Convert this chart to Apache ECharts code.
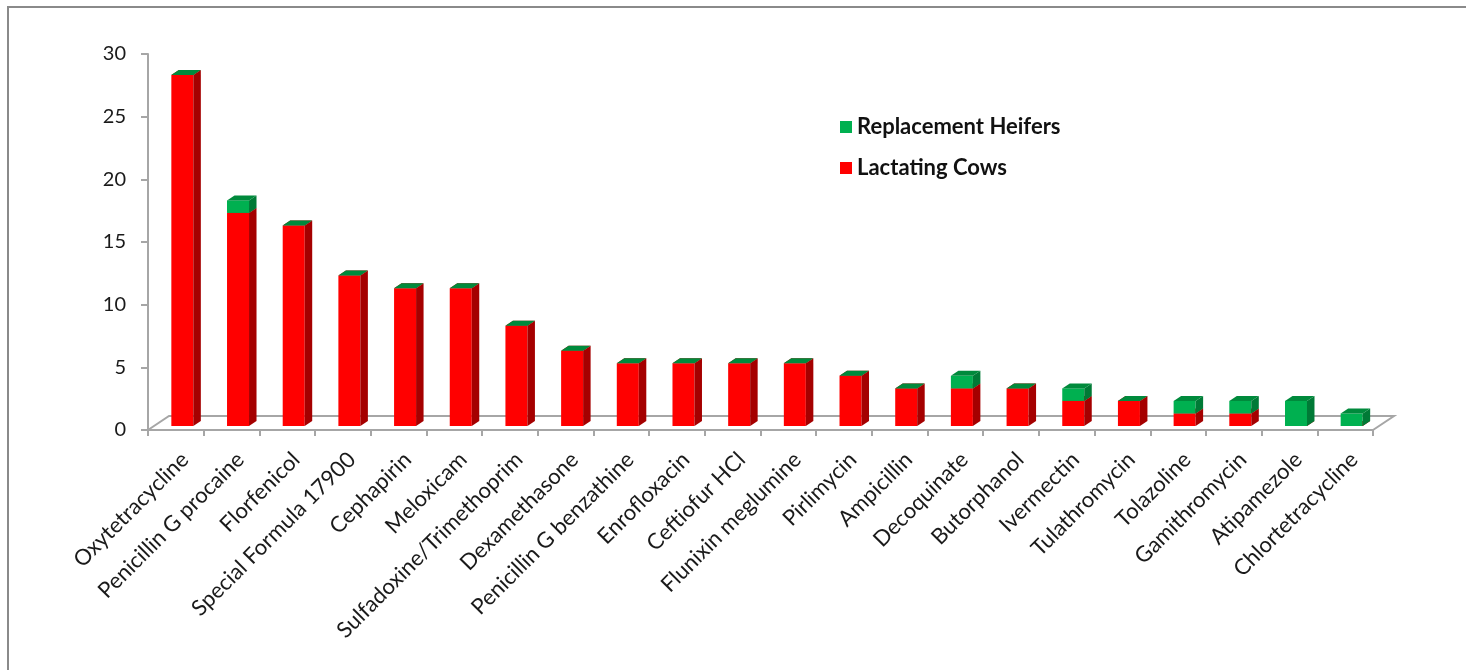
<!DOCTYPE html>
<html>
<head>
<meta charset="utf-8">
<script src="https://cdn.jsdelivr.net/npm/echarts@6/dist/echarts.min.js"></script>
<style>
html,body{margin:0;padding:0;background:#fff;}
#chart{width:1466px;height:670px;}
</style>
</head>
<body>
<div id="chart"></div>
<script>
var categories = ["Oxytetracycline","Penicillin G procaine","Florfenicol","Special Formula 17900","Cephapirin","Meloxicam","Sulfadoxine/Trimethoprim","Dexamethasone","Penicillin G benzathine","Enrofloxacin","Ceftiofur HCl","Flunixin meglumine","Pirlimycin","Ampicillin","Decoquinate","Butorphanol","Ivermectin","Tulathromycin","Tolazoline","Gamithromycin","Atipamezole","Chlortetracycline"];
var lactatingCows = [28,17,16,12,11,11,8,6,5,5,5,5,4,3,3,3,2,2,1,1,0,0];
var replacementHeifers = [0,1,0,0,0,0,0,0,0,0,0,0,0,0,1,0,1,0,1,1,2,1];
var yTicks = [0,5,10,15,20,25,30];

var FONT = 'Lato';
var chart = echarts.init(document.getElementById('chart'));

function makeBarRenderer(baseArr, valArr, colors) {
  return function (params, api) {
    var idx = api.value(0);
    var base = baseArr[idx];
    var top = base + valArr[idx];
    var p0 = api.coord([idx, base]);
    var p1 = api.coord([idx, top]);
    var c = p0[0] + 6.5;
    var yb = p0[1] - 4;
    var yt = p1[1] - 4;
    var hw = 11, dx = 7.5, dy = 5;
    var children = [];
    if (yb - yt > 0.01) {
      children.push({type:'rect', shape:{x:c-hw, y:yt, width:2*hw, height:yb-yt}, style:{fill:colors.front}});
      children.push({type:'polygon', shape:{points:[[c+hw,yb],[c+hw+dx,yb-dy],[c+hw+dx,yt-dy],[c+hw,yt]]}, style:{fill:colors.side}});
    }
    children.push({type:'polygon', shape:{points:[[c-hw,yt],[c+hw,yt],[c+hw+dx,yt-dy],[c-hw+dx,yt-dy]]}, style:{fill:colors.top}});
    return {type:'group', children: children};
  };
}

var zeros = lactatingCows.map(function(){return 0;});
var idxData = categories.map(function(c,i){return [i, 0];});

var option = {
  animation: false,
  backgroundColor: '#ffffff',
  graphic: [{
    type: 'rect', shape: {x: 8, y: 7, width: 1500, height: 700},
    style: {fill: 'none', stroke: '#8a8a8a', lineWidth: 2}, z: -10
  }],
  grid: {left: 148, right: 93, top: 54, bottom: 240, containLabel: false},
  legend: {
    orient: 'vertical', left: 835, top: 111, itemWidth: 12, itemHeight: 12, itemGap: 19,
    icon: 'rect',
    textStyle: {fontFamily: FONT, fontSize: 22, fontWeight: 'bold', color: '#111'},
    data: ['Replacement Heifers', 'Lactating Cows']
  },
  xAxis: {
    type: 'category', data: categories, boundaryGap: true,
    axisLine: {show: true, lineStyle: {color: '#a6a6a6', width: 2}},
    axisTick: {show: true, interval: 0, length: 6, lineStyle: {color: '#a6a6a6', width: 2}},
    axisLabel: {show: false, interval: 0},
    splitLine: {show: false}
  },
  yAxis: {
    type: 'value', min: 0, max: 30, interval: 5,
    axisLine: {show: true, lineStyle: {color: '#a6a6a6', width: 2}},
    axisTick: {show: true, length: 7, lineStyle: {color: '#a6a6a6', width: 2}},
    axisLabel: {margin: 22, fontFamily: FONT, fontSize: 20, color: '#1a1a1a',
      formatter: function(v){ return yTicks.indexOf(v) >= 0 ? String(v) : ''; }},
    splitLine: {show: false}
  },
  series: [
    {
      name: 'floor', type: 'custom', data: [[0, 0]], silent: true, z: 1,
      renderItem: function (params, api) {
        var cs = params.coordSys;
        var x0 = cs.x, x1 = cs.x + cs.width, y0 = cs.y + cs.height;
        var ddx = 21, ddy = 14;
        return {type:'polyline', shape:{points:[[x0,y0],[x0+ddx,y0-ddy],[x1+ddx,y0-ddy],[x1,y0]]},
          style:{stroke:'#a6a6a6', lineWidth:2, fill:'none'}};
      }
    },
    {
      name: 'labels', type: 'custom', data: idxData, silent: true, z: 1,
      renderItem: function (params, api) {
        var idx = api.value(0);
        var p = api.coord([idx, 0]);
        return {type:'text', x: p[0] + 9, y: p[1] + 26, rotation: Math.PI / 4,
          style:{text: categories[idx], align:'right', verticalAlign:'middle',
            fontFamily: FONT, fontSize: 22, fill:'#1a1a1a'}};
      }
    },
    {
      name: 'Lactating Cows', type: 'custom', data: idxData, z: 2,
      itemStyle: {color: '#ff0000'},
      renderItem: makeBarRenderer(zeros, lactatingCows, {front:'#ff0000', side:'#a50000', top:'#c00000'})
    },
    {
      name: 'Replacement Heifers', type: 'custom', data: idxData, z: 3,
      itemStyle: {color: '#00b050'},
      renderItem: makeBarRenderer(lactatingCows, replacementHeifers, {front:'#00b050', side:'#007a36', top:'#008a3c'})
    }
  ]
};
chart.setOption(option);
</script>
</body>
</html>
